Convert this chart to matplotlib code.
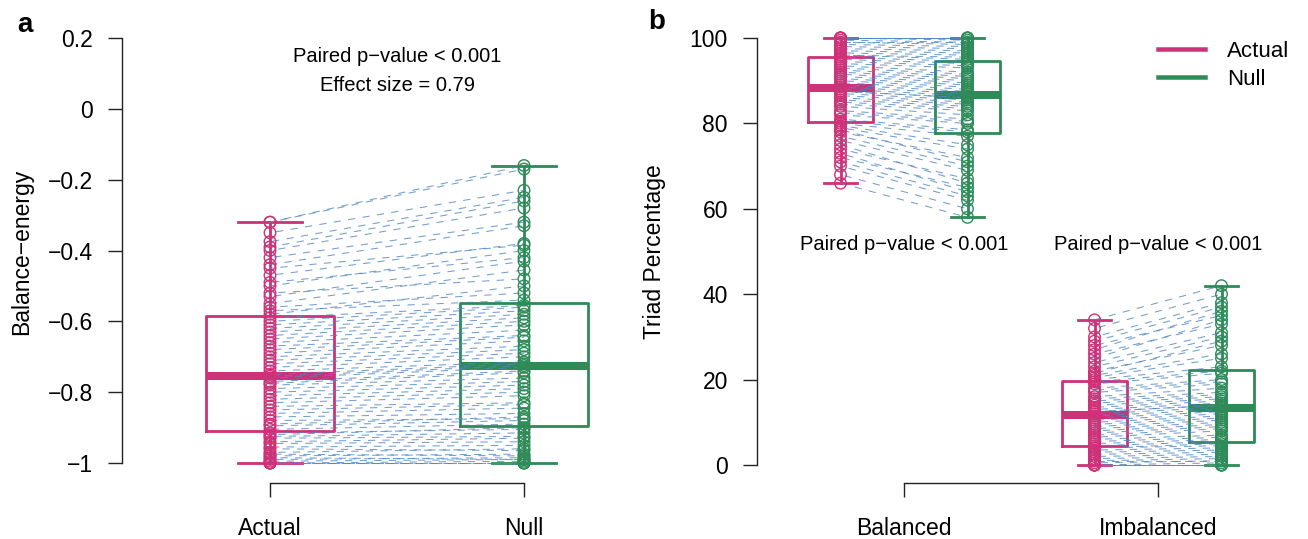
import matplotlib
matplotlib.use("Agg")
import matplotlib.pyplot as plt
from matplotlib.lines import Line2D

plt.rcParams['font.family'] = ['Liberation Sans', 'DejaVu Sans']

# ---------------- data ----------------
# Panel a: balance-energy per network (paired)
energy_actual = [-1.000, -1.000, -1.000, -1.000, -0.995, -0.990, -0.985, -0.980, -0.975, -0.970,
                 -0.960, -0.955, -0.945, -0.940, -0.930, -0.925, -0.920, -0.915, -0.905, -0.895,
                 -0.890, -0.880, -0.870, -0.860, -0.850, -0.840, -0.830, -0.820, -0.810, -0.800,
                 -0.790, -0.780, -0.775, -0.770, -0.760, -0.755, -0.750, -0.740, -0.730, -0.720,
                 -0.710, -0.700, -0.690, -0.680, -0.670, -0.660, -0.650, -0.640, -0.630, -0.620,
                 -0.610, -0.600, -0.590, -0.580, -0.570, -0.560, -0.550, -0.530, -0.520, -0.500,
                 -0.490, -0.470, -0.450, -0.440, -0.420, -0.400, -0.390, -0.375, -0.350, -0.320,
                 -0.320]
energy_null = [-1.000, -1.000, -0.995, -1.000, -0.990, -0.985, -0.990, -0.975, -0.980, -0.960,
               -0.965, -0.950, -0.940, -0.930, -0.925, -0.915, -0.900, -0.905, -0.890, -0.880,
               -0.870, -0.875, -0.860, -0.845, -0.835, -0.830, -0.810, -0.800, -0.790, -0.780,
               -0.770, -0.760, -0.745, -0.740, -0.730, -0.725, -0.720, -0.715, -0.700, -0.690,
               -0.680, -0.670, -0.655, -0.645, -0.640, -0.625, -0.610, -0.600, -0.590, -0.580,
               -0.570, -0.560, -0.555, -0.500, -0.540, -0.520, -0.455, -0.430, -0.480, -0.400,
               -0.420, -0.380, -0.385, -0.330, -0.320, -0.280, -0.260, -0.250, -0.230, -0.170,
               -0.160]

# Panel b: triad percentages (paired)
balanced_actual = [66, 68, 70, 71, 72, 73, 74, 75, 76, 77,
                   78, 78.5, 79, 79.5, 80, 80.5, 81, 82, 82.5, 83,
                   84, 84.5, 85, 85.5, 86, 86.5, 87, 87.5, 87.5, 88,
                   88.5, 89, 89.5, 90, 90.5, 91, 91.5, 92, 92.5, 93,
                   93.5, 94, 94.5, 95, 95.5, 96, 96, 96.5, 97, 97.5,
                   98, 98.5, 99, 99, 99.5, 100, 100, 100, 100, 100]
balanced_null = [58, 60, 62, 63, 65, 64, 67, 66, 69, 70,
                 72, 71, 74, 75, 77, 78, 78.5, 80, 80.5, 81,
                 82, 83, 83.5, 84, 84.5, 85, 85.5, 86, 86, 86.5,
                 87, 87.5, 88, 88.5, 89, 89.5, 90, 90.5, 91, 91.5,
                 92, 93, 93.5, 94, 94.5, 95, 95.5, 96, 96.5, 97,
                 97.5, 98, 98.5, 99, 99, 99.5, 100, 100, 100, 100]
imbalanced_actual = [34, 32, 30, 29, 28, 27, 26, 25, 24, 23,
                     22, 21.5, 21, 20.5, 20, 19.5, 19, 18, 17.5, 17,
                     16, 15.5, 15, 14.5, 14, 13.5, 13, 12.5, 12.5, 12,
                     11.5, 11, 10.5, 10, 9.5, 9, 8.5, 8, 7.5, 7,
                     6.5, 6, 5.5, 5, 4.5, 4, 4, 3.5, 3, 2.5,
                     2, 1.5, 1, 1, 0.5, 0, 0, 0, 0, 0]
imbalanced_null = [42, 40, 38, 37, 35, 36, 33, 34, 31, 30,
                   28, 29, 26, 25, 23, 22, 21.5, 20, 19.5, 19,
                   18, 17, 16.5, 16, 15.5, 15, 14.5, 14, 14, 13.5,
                   13, 12.5, 12, 11.5, 11, 10.5, 10, 9.5, 9, 8.5,
                   8, 7, 6.5, 6, 5.5, 5, 4.5, 4, 3.5, 3,
                   2.5, 2, 1.5, 1, 1, 0.5, 0, 0, 0, 0]

a_categories = ["Actual", "Null"]
b_categories = ["Balanced", "Imbalanced"]
a_yticks = [-1, -0.8, -0.6, -0.4, -0.2, 0, 0.2]
a_yticklabels = ["\u22121", "\u22120.8", "\u22120.6", "\u22120.4", "\u22120.2", "0", "0.2"]
b_yticks = [0, 20, 40, 60, 80, 100]
b_yticklabels = ["0", "20", "40", "60", "80", "100"]

# ---------------- style ----------------
PINK = "#CD3278"
GREEN = "#2E8B57"
BLUE = "#4F86C0"
W, H = 1308, 539
DPI = 100
PX = 72.0 / DPI  # points per pixel

fig = plt.figure(figsize=(W / DPI, H / DPI), dpi=DPI)


def axes_px(left, top, right, bottom):
    return fig.add_axes([left / W, 1 - bottom / H, (right - left) / W, (bottom - top) / H])


def style_axes(ax, yticks, yticklabels, xlabels, ylabel, ylabel_x_px, left_px):
    for s in ("top", "right"):
        ax.spines[s].set_visible(False)
    ax.spines["left"].set_bounds(yticks[0], yticks[-1])
    ax.spines["bottom"].set_bounds(1, 2)
    for s in ("left", "bottom"):
        ax.spines[s].set_linewidth(1.0)
        ax.spines[s].set_color("#222222")
    ax.set_yticks(yticks)
    ax.set_yticklabels(yticklabels)
    ax.set_xticks([1, 2])
    ax.set_xticklabels(xlabels)
    ax.tick_params(axis="both", direction="out", length=14 * PX, width=1.0,
                   color="#222222", labelsize=16.5)
    ax.tick_params(axis="y", pad=15 * PX)
    ax.tick_params(axis="x", pad=20 * PX)
    ax.set_ylabel(ylabel, fontsize=16.5)
    wpx = ax.get_position().width * W
    ax.yaxis.set_label_coords((ylabel_x_px - left_px) / wpx, 0.5)


def draw_boxes(ax, data, positions, width, colors):
    for vals, pos, col in zip(data, positions, colors):
        ax.boxplot([vals], positions=[pos], widths=width, whis=(0, 100),
                   showfliers=False, manage_ticks=False, capwidths=width * 0.5,
                   boxprops=dict(color=col, linewidth=2.8 * PX),
                   whiskerprops=dict(color=col, linewidth=2.8 * PX, linestyle="-"),
                   capprops=dict(color=col, linewidth=2.8 * PX),
                   medianprops=dict(color=col, linewidth=8 * PX, solid_capstyle="butt"),
                   zorder=2)


def draw_pairs(ax, xa, xn, ya, yn):
    for i, (a, n) in enumerate(zip(ya, yn)):
        phase = (i * i * 7 + i * 3) % 14
        ax.plot([xa, xn], [a, n], color=BLUE, linewidth=0.75, alpha=0.8,
                linestyle=(phase, (7, 7)), zorder=3)


def draw_points(ax, x, vals, col):
    ax.scatter([x] * len(vals), vals, s=(11.5 * PX) ** 2, facecolors="none",
               edgecolors=col, linewidths=1.4 * PX, zorder=4)


# ---------------- panel a ----------------
axA = axes_px(122, 20, 660, 483)
ppu_a = (463 - 38) / 1.2
axA.set_ylim(-1 - (483 - 463) / ppu_a, 0.2 + (38 - 20) / ppu_a)
axA.set_xlim(1 - (270 - 122) / 254, 1 + (660 - 270) / 254)
draw_boxes(axA, [energy_actual, energy_null], [1, 2], 0.504, [PINK, GREEN])
draw_pairs(axA, 1, 2, energy_actual, energy_null)
draw_points(axA, 1, energy_actual, PINK)
draw_points(axA, 2, energy_null, GREEN)
style_axes(axA, a_yticks, a_yticklabels, a_categories, "Balance\u2212energy", 33, 122)
axA.text(1.5, 0.2 - (56 - 38) / ppu_a, "Paired p\u2212value < 0.001", ha="center",
         va="center", fontsize=14.5)
axA.text(1.5, 0.2 - (85 - 38) / ppu_a, "Effect size = 0.79", ha="center",
         va="center", fontsize=14.5)

# ---------------- panel b ----------------
axB = axes_px(757, 20, 1300, 483)
ppu_b = (465 - 38) / 100.0
axB.set_ylim(0 - (483 - 465) / ppu_b, 100 + (38 - 20) / ppu_b)
axB.set_xlim(1 - (904 - 757) / 254, 1 + (1300 - 904) / 254)
off = 0.25
draw_boxes(axB, [balanced_actual, balanced_null, imbalanced_actual, imbalanced_null],
           [1 - off, 1 + off, 2 - off, 2 + off], 0.256, [PINK, GREEN, PINK, GREEN])
draw_pairs(axB, 1 - off, 1 + off, balanced_actual, balanced_null)
draw_pairs(axB, 2 - off, 2 + off, imbalanced_actual, imbalanced_null)
draw_points(axB, 1 - off, balanced_actual, PINK)
draw_points(axB, 1 + off, balanced_null, GREEN)
draw_points(axB, 2 - off, imbalanced_actual, PINK)
draw_points(axB, 2 + off, imbalanced_null, GREEN)
style_axes(axB, b_yticks, b_yticklabels, b_categories, "Triad Percentage", 666, 757)
for xc in (1, 2):
    axB.text(xc, 100 - (245 - 38) / ppu_b, "Paired p\u2212value < 0.001", ha="center",
             va="center", fontsize=14.5)

# legend
handles = [Line2D([], [], color=PINK, linewidth=4.5 * PX),
           Line2D([], [], color=GREEN, linewidth=4.5 * PX)]
fig.legend(handles, ["Actual", "Null"], loc="center left",
           bbox_to_anchor=(1158 / W, 1 - 65.5 / H), frameon=False, fontsize=16,
           handlelength=2.1, handletextpad=1.0, labelspacing=0.3, borderpad=0,
           borderaxespad=0)

# panel letters
fig.text(25 / W, 1 - 25 / H, "a", fontsize=20, fontweight="bold", ha="center", va="center")
fig.text(657 / W, 1 - 22 / H, "b", fontsize=20, fontweight="bold", ha="center", va="center")

fig.savefig("out.png", dpi=DPI)
